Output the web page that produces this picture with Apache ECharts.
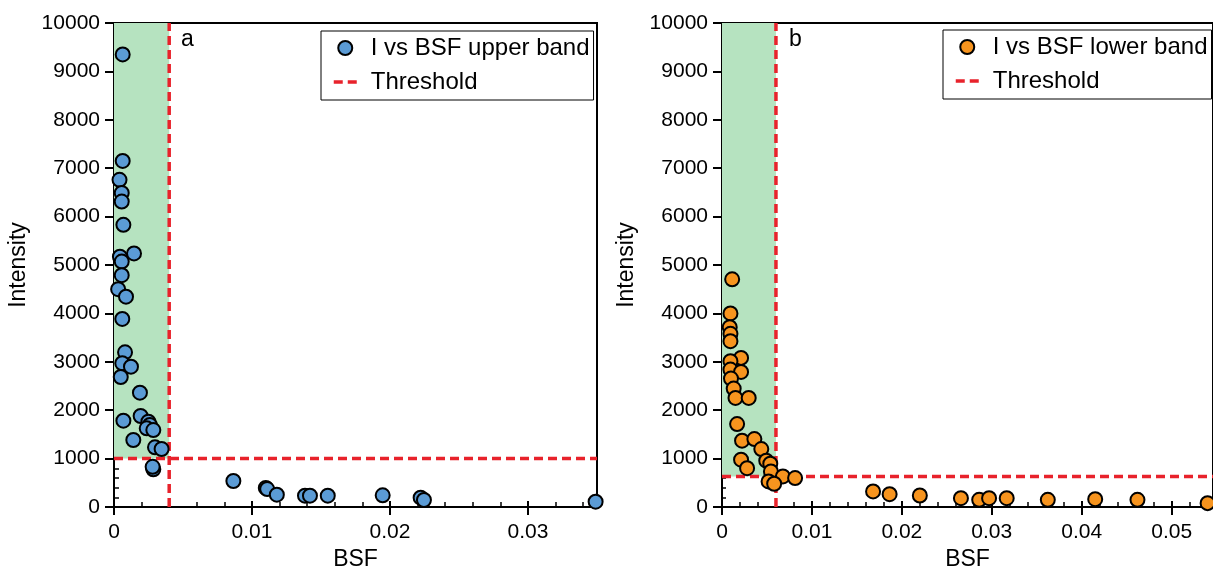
<!DOCTYPE html>
<html>
<head>
<meta charset="utf-8">
<script src="https://cdn.jsdelivr.net/npm/echarts@6/dist/echarts.min.js"></script>
<style>
html,body{margin:0;padding:0;background:#fff;}
#chart{width:1213px;height:579px;}
</style>
</head>
<body>
<div id="chart"></div>
<script>
// ---- data ----
var upperBSF = [0.00063,0.00063,0.0004,0.00056,0.00056,0.00068,0.00145,0.00043,0.00056,0.00056,0.0003,0.00087,0.0006,0.0008,0.0006,0.00123,0.00049,0.00188,0.00193,0.00249,0.00068,0.0026,0.00237,0.00285,0.0014,0.00297,0.00345,0.00285,0.0028,0.00865,0.0110,0.0111,0.0118,0.01384,0.0142,0.01549,0.01947,0.02222,0.02246,0.0349];
var upperI   = [9350,7150,6760,6490,6310,5830,5240,5170,5070,4790,4500,4345,3885,3196,2970,2900,2686,2362,1880,1762,1783,1694,1626,1590,1384,1233,1198,779,830,537,395,370,254,234,234,234,241,193,145,110];
var lowerBSF = [0.00113,0.00094,0.00086,0.00094,0.00094,0.00212,0.00094,0.00094,0.00212,0.0010,0.0013,0.0015,0.00297,0.00168,0.00223,0.0036,0.00437,0.00492,0.00537,0.00212,0.00279,0.00544,0.00677,0.00813,0.00518,0.0058,0.0168,0.01864,0.022,0.02657,0.0286,0.0297,0.03166,0.03623,0.0415,0.0462,0.054];
var lowerI   = [4704,4000,3716,3578,3427,3081,3012,2840,2791,2654,2447,2253,2253,1714,1370,1404,1197,957,894,977,803,735,631,597,528,480,321,265,238,183,149,183,183,149,162,149,80];
var thresholdBSF = [0.004, 0.006];   // panel a, panel b
var thresholdI   = [1000, 630];
var panelLabels  = ['a', 'b'];
var seriesNames  = ['I vs BSF upper band', 'I vs BSF lower band'];
var xMax = [0.035, 0.0546];
var yMax = 10000;

// ---- styles ----
var FONT = "'Liberation Sans', Arial, sans-serif";
var RED = '#e8222b';
var GREEN = '#b6e3c0';
var colors = ['#5b9bd5', '#f7941e'];

function zip(a, b){ var o=[]; for (var i=0;i<a.length;i++) o.push([a[i], b[i]]); return o; }

var grids = [
  {left:114, right:616, top:23, bottom:72},
  {left:722, right:-1, top:23, bottom:72}
];
var gridW = [1213-114-616, 1213-722+1];
var gridH = 579-23-72;
grids.forEach(function(g){ g.show = true; g.borderColor = '#000'; g.borderWidth = 2; g.backgroundColor = 'transparent'; });

var xAxes = [], yAxes = [], series = [], legends = [], graphics = [];

[0,1].forEach(function(p){
  xAxes.push({
    type:'value', gridIndex:p, min:0, max:xMax[p], interval:0.01,
    name:'BSF', nameLocation:'middle', nameGap:41,
    nameTextStyle:{fontSize:23, color:'#000', fontFamily:FONT},
    axisLine:{show:true, onZero:false, lineStyle:{color:'#000', width:2}},
    axisTick:{show:true, inside:false, length:8, lineStyle:{color:'#000', width:2}},
    axisLabel:{show:true, margin:15, fontSize:21, color:'#000', fontFamily:FONT, showMaxLabel:false,
      formatter:function(v){ var r=Math.round(v*100); return Math.abs(v*100-r)<1e-6 ? (r===0?'0':(r/100).toString()) : ''; }},
    splitLine:{show:false}
  });
  yAxes.push({
    type:'value', gridIndex:p, min:0, max:yMax, interval:1000,
    name:'Intensity', nameLocation:'middle', nameGap:84,
    nameTextStyle:{fontSize:23, color:'#000', fontFamily:FONT},
    axisLine:{show:true, onZero:false, lineStyle:{color:'#000', width:2}},
    axisTick:{show:true, inside:false, length:9, lineStyle:{color:'#000', width:2}},
    axisLabel:{show:true, margin:14, fontSize:21, color:'#000', fontFamily:FONT,
      formatter:function(v){ return String(Math.round(v)); }},
    splitLine:{show:false}
  });
});
[0,1].forEach(function(p){
  xAxes.push({
    type:'value', gridIndex:p, min:0, max:xMax[p], interval:0.01,
    position:'top', offset:-gridH,
    axisLine:{show:false, onZero:false}, axisLabel:{show:false}, splitLine:{show:false},
    axisTick:{show:true, inside:false, length:6, lineStyle:{color:'#000', width:2}},
    minorTick:{show:true, splitNumber:5, length:5, lineStyle:{color:'#000', width:1.5}}
  });
  yAxes.push({
    type:'value', gridIndex:p, min:0, max:yMax, interval:1000,
    position:'right', offset:-gridW[p],
    axisLine:{show:false, onZero:false}, axisLabel:{show:false}, splitLine:{show:false},
    axisTick:{show:true, inside:false, length:6, lineStyle:{color:'#000', width:2}},
    minorTick:{show:true, splitNumber:5, length:5, lineStyle:{color:'#000', width:1.5}}
  });
});

var dataSets = [zip(upperBSF, upperI), zip(lowerBSF, lowerI)];
var dashStyle = {color:RED, width:3.5, type:[9,5]};

[0,1].forEach(function(p){
  series.push({
    name:'Threshold', type:'line', xAxisIndex:p, yAxisIndex:p,
    data:[[thresholdBSF[p], 0], [thresholdBSF[p], yMax]],
    symbol:'none', showSymbol:false, silent:true, z:3,
    lineStyle:dashStyle, itemStyle:{color:RED},
    markArea:{silent:true, itemStyle:{color:GREEN, opacity:1},
      data:[[{coord:[0, thresholdI[p]]}, {coord:[thresholdBSF[p], yMax]}]]}
  });
  series.push({
    name:'Threshold', type:'line', xAxisIndex:p, yAxisIndex:p,
    data:[[0, thresholdI[p]], [xMax[p], thresholdI[p]]],
    symbol:'none', showSymbol:false, silent:true, z:3,
    lineStyle:dashStyle, itemStyle:{color:RED}
  });
  series.push({
    name:seriesNames[p], type:'scatter', xAxisIndex:p, yAxisIndex:p,
    data:dataSets[p], symbol:'circle', symbolSize:14, z:5,
    itemStyle:{color:colors[p], borderColor:'#000', borderWidth:2, opacity:1}
  });
});

function makeLegend(p, left, top){
  return {
    orient:'vertical', left:left, top:top,
    data:[seriesNames[p], {name:'Threshold', itemStyle:{color:'rgba(0,0,0,0)', borderWidth:0, opacity:0},
                            lineStyle:{color:RED, width:3.5, type:[9,5]}}],
    itemWidth:23, itemHeight:14, itemGap:10,
    padding:[5,4,6,11], borderColor:'#000', borderWidth:1, backgroundColor:'#fff',
    textStyle:{fontSize:24, color:'#000', fontFamily:FONT, padding:[0,0,0,9]},
    selectedMode:false
  };
}
legends.push(makeLegend(0, 321, 31));
legends.push(makeLegend(1, 943, 30));

graphics.push({type:'text', left:181, top:28, style:{text:panelLabels[0], font:'23px ' + FONT, fill:'#000'}, z:10});
graphics.push({type:'text', left:789, top:28, style:{text:panelLabels[1], font:'23px ' + FONT, fill:'#000'}, z:10});

var chart = echarts.init(document.getElementById('chart'), null, {renderer:'canvas'});
chart.setOption({
  animation:false,
  backgroundColor:'#fff',
  textStyle:{fontFamily:FONT},
  grid:grids,
  xAxis:xAxes,
  yAxis:yAxes,
  legend:legends,
  graphic:graphics,
  series:series
});
</script>
</body>
</html>
